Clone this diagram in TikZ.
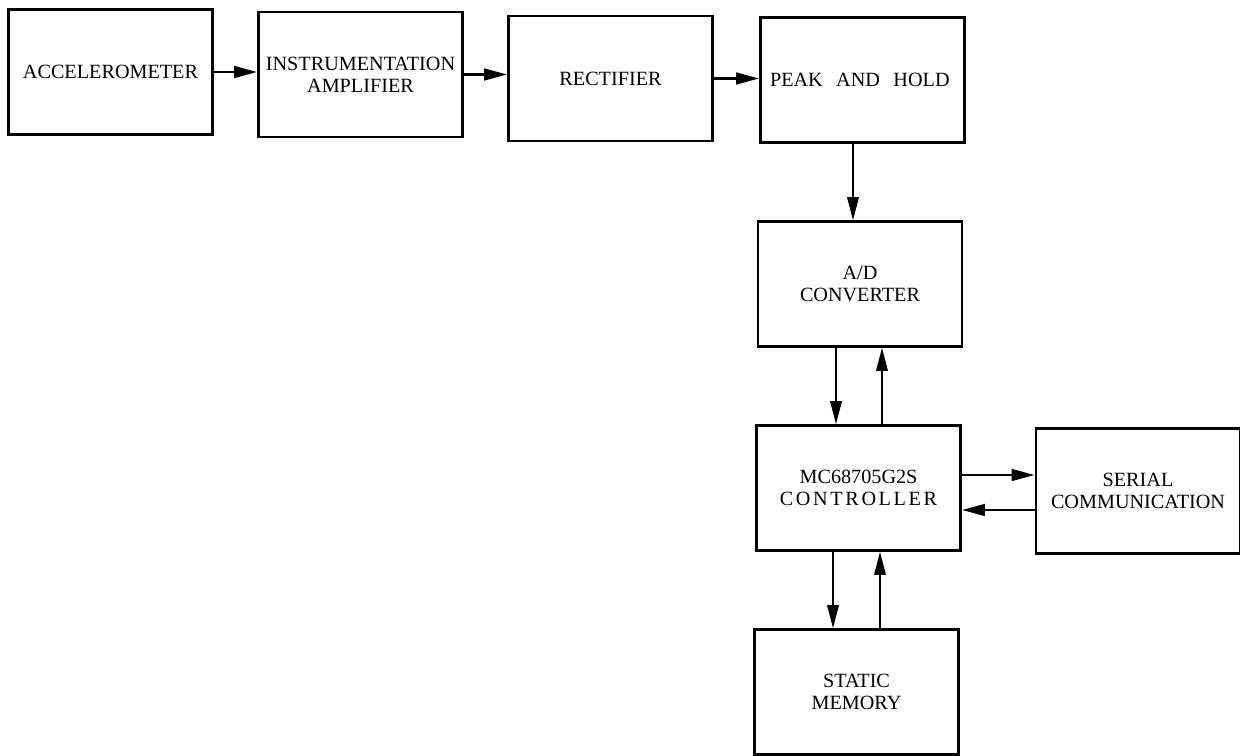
\documentclass[tikz,border=0pt]{standalone}
\usepackage{fontspec}
\setmainfont{Liberation Serif}
\usetikzlibrary{arrows.meta}

\begin{document}
\begin{tikzpicture}[x=0.02cm, y=-0.02cm,
  block/.style={draw, line width=1.5pt, minimum width=4.08cm, minimum height=2.5cm,
    align=center, font=\fontsize{11.5}{12.5}\selectfont},
  flow/.style={line width=1pt, -{Triangle[length=0.46cm,width=0.23cm]}},
  bigflow/.style={line width=1.6pt, -{Triangle[length=0.46cm,width=0.23cm]}}]

\useasboundingbox (0,0) rectangle (1240,756);

% top row
\node[block] (accel) at (110.5,72) {ACCELEROMETER};
\node[block] (amp) at (360.5,74.5) {INSTRUMENTATION\\AMPLIFIER};
\node[block] (rect) at (610.5,78.5) {RECTIFIER};
\node[block, text width=3.7cm, align=left] (peak) at (862.5,80) {PEAK\ \ AND\ \ HOLD};

% converter and controller
\node[block] (adc) at (860,284) {A/D\\CONVERTER};
\node[block] (ctrl) at (858.5,488) {MC68705G2S\\{\addfontfeature{LetterSpace=13}CONTROLLER}};
\node[block] (serial) at (1138,491) {SERIAL\\COMMUNICATION};

% memory
\node[block] (mem) at (856.5,692) {STATIC\\MEMORY};

% signal path
\draw[bigflow] (accel.east) -- (accel.east -| amp.west);
\draw[bigflow] (amp.east) -- (amp.east -| rect.west);
\draw[bigflow] (rect.east) -- (rect.east -| peak.west);
\draw[flow] ([xshift=-0.19cm]peak.south) -- ([xshift=-0.19cm]peak.south |- adc.north);

% bus lines
\draw[flow] ([xshift=-0.48cm]adc.south) -- ([xshift=-0.48cm]adc.south |- ctrl.north);
\draw[flow] ([xshift=0.44cm]adc.south |- ctrl.north) -- ([xshift=0.44cm]adc.south);
\draw[bigflow] ([yshift=0.26cm]ctrl.east) -- ([yshift=0.26cm]ctrl.east -| serial.west);
\draw[bigflow] ([yshift=-0.38cm]serial.west) -- ([yshift=-0.38cm]serial.west -| ctrl.east);
\draw[flow] ([xshift=-0.51cm]ctrl.south) -- ([xshift=-0.51cm]ctrl.south |- mem.north);
\draw[flow] ([xshift=0.43cm]ctrl.south |- mem.north) -- ([xshift=0.43cm]ctrl.south);

\end{tikzpicture}
\end{document}
